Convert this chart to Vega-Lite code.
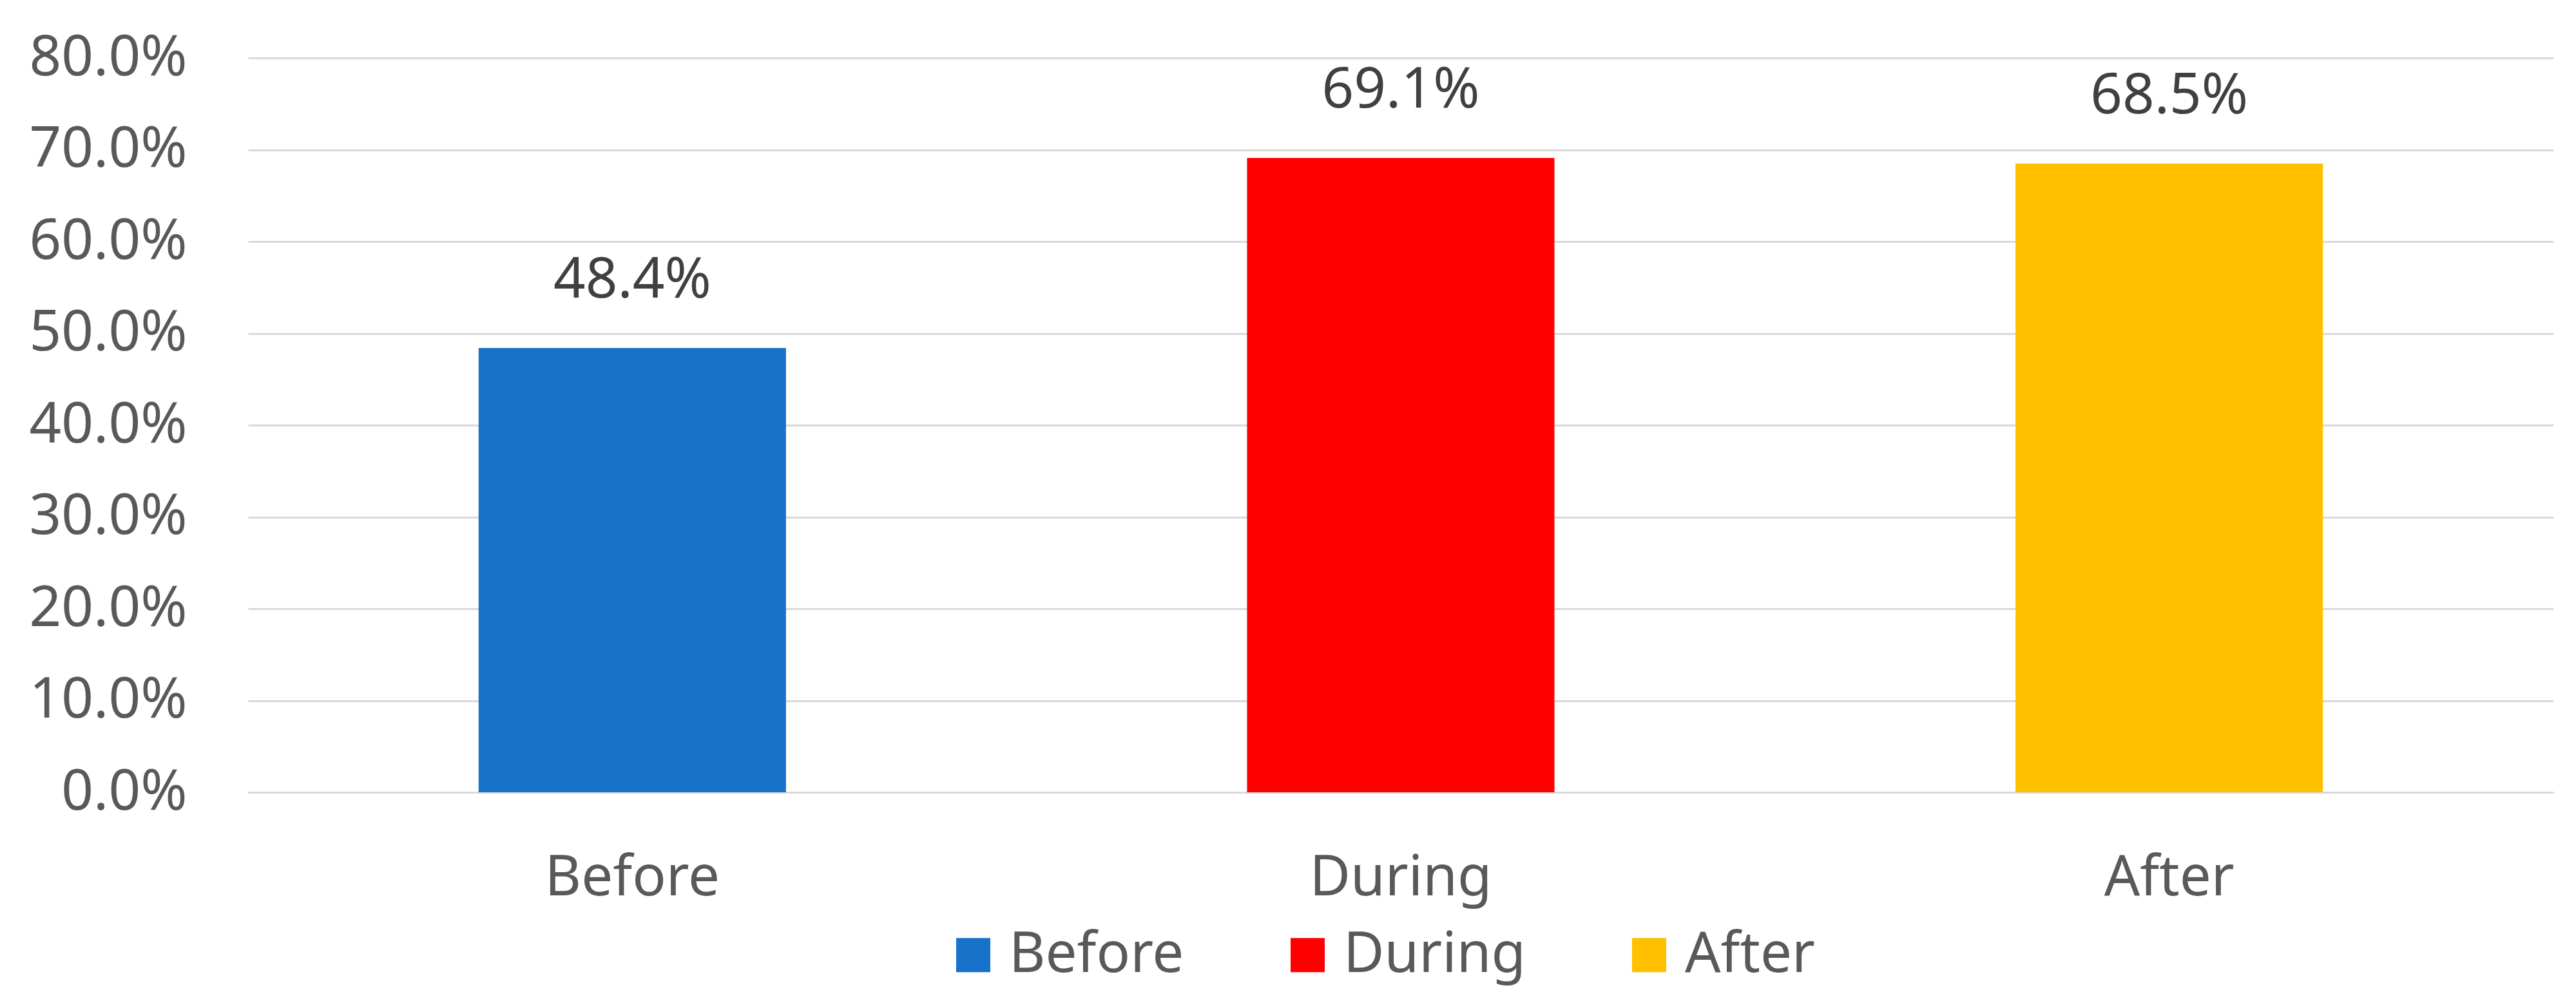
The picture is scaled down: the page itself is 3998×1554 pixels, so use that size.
{
  "$schema": "https://vega.github.io/schema/vega-lite/v6.json",
  "autosize": {"type": "none"},
  "width": 3578,
  "height": 1140,
  "padding": {"left": 385, "top": 90, "right": 35, "bottom": 324},
  "background": "white",
  "config": {
    "view": {"stroke": null},
    "font": "Noto Sans"
  },
  "data": {
    "values": [
      {"period": "Before", "share": 0.484},
      {"period": "During", "share": 0.691},
      {"period": "After", "share": 0.685}
    ]
  },
  "encoding": {
    "x": {
      "field": "period",
      "type": "nominal",
      "sort": ["Before", "During", "After"],
      "scale": {"paddingInner": 0.6, "paddingOuter": 0.3},
      "axis": {
        "title": null,
        "labelAngle": 0,
        "labelFont": "Noto Sans",
        "labelFontSize": 87,
        "labelColor": "#595959",
        "labelPadding": 90,
        "labelLimit": 2000,
        "ticks": false,
        "tickSize": 0,
        "domain": true,
        "domainColor": "#d9d9d9",
        "domainWidth": 3,
        "grid": false
      }
    },
    "y": {
      "field": "share",
      "type": "quantitative",
      "scale": {"domain": [0, 0.8], "nice": false},
      "axis": {
        "title": null,
        "format": ".1%",
        "values": [0, 0.1, 0.2, 0.3, 0.4, 0.5, 0.6, 0.7, 0.8],
        "labelFont": "Noto Sans",
        "labelFontSize": 87,
        "labelColor": "#595959",
        "labelPadding": 95,
        "labelLimit": 2000,
        "ticks": false,
        "tickSize": 0,
        "domain": false,
        "grid": true,
        "gridColor": "#d9d9d9",
        "gridWidth": 3
      }
    }
  },
  "layer": [
    {
      "mark": {"type": "bar"},
      "encoding": {
        "color": {
          "field": "period",
          "type": "nominal",
          "scale": {
            "domain": ["Before", "During", "After"],
            "range": ["#1772C9", "#FF0000", "#FFC000"]
          },
          "legend": {
            "title": null,
            "orient": "none",
            "direction": "horizontal",
            "legendX": 1082,
            "legendY": 1349,
            "padding": 0,
            "symbolType": "square",
            "symbolSize": 2809,
            "symbolStrokeWidth": 0,
            "symbolOpacity": 1,
            "labelFont": "Noto Sans",
            "labelFontSize": 87,
            "labelColor": "#595959",
            "labelOffset": 12,
            "columnPadding": 148,
            "labelLimit": 1000
          }
        }
      }
    },
    {
      "mark": {
        "type": "text",
        "baseline": "alphabetic",
        "align": "center",
        "dy": -78,
        "font": "Noto Sans",
        "fontSize": 87,
        "color": "#404040"
      },
      "encoding": {
        "text": {"field": "share", "type": "quantitative", "format": ".1%"}
      }
    }
  ]
}
